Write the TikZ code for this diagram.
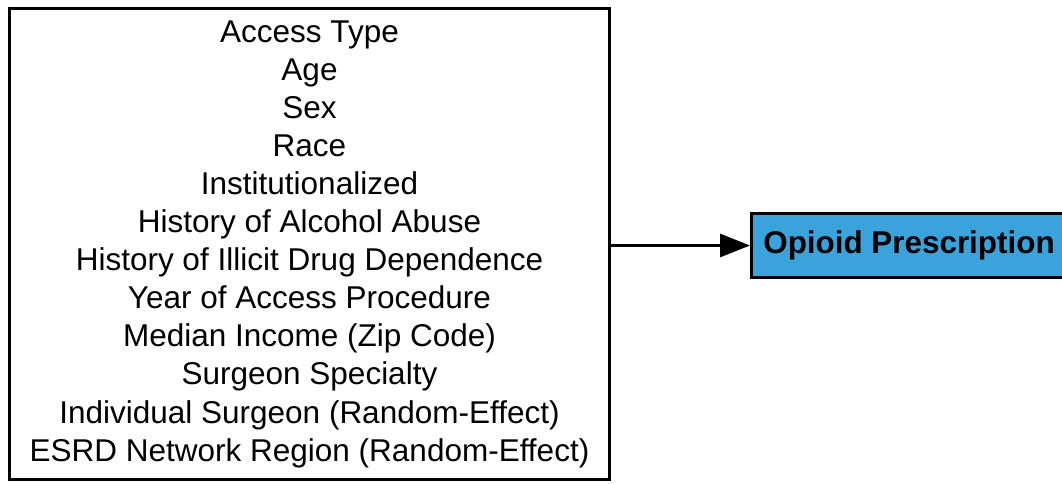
\documentclass[tikz,border=0pt]{standalone}
\usepackage{fontspec}
\setmainfont{Liberation Sans}
\usetikzlibrary{arrows.meta}
\definecolor{outcomeblue}{HTML}{3AA3DC}
\begin{document}
\begin{tikzpicture}[x=1pt,y=-1pt,
  factorbox/.style={draw=black, line width=3pt, fill=white, align=center,
    minimum width=600pt, minimum height=471pt, inner sep=0pt,
    font=\fontsize{31.5}{38.1}\selectfont},
  outcomebox/.style={draw=black, line width=3pt, fill=outcomeblue,
    minimum width=315pt, minimum height=64pt, inner sep=0pt,
    font=\fontsize{31.4}{36}\selectfont\bfseries},
  link/.style={line width=3pt, -{Triangle[length=30pt,width=23pt]}}]
\useasboundingbox (0,0) rectangle (1062,483);
\node[factorbox] (factors) at (309.5,244) {Access Type\\Age\\Sex\\Race\\Institutionalized\\History of Alcohol Abuse\\History of Illicit Drug Dependence\\Year of Access Procedure\\Median Income (Zip Code)\\Surgeon Specialty\\Individual Surgeon (Random-Effect)\\ESRD Network Region (Random-Effect)};
\node[outcomebox] (outcome) at (909,245.5) {Opioid Prescription};
\draw[link] (factors.east |- outcome.west) -- (outcome.west);
\end{tikzpicture}
\end{document}
